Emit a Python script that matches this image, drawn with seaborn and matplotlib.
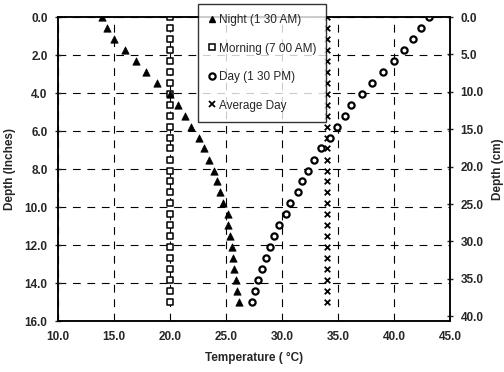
import pandas as pd
import seaborn as sns
import matplotlib.pyplot as plt
from matplotlib.lines import Line2D

# depth of each reading (inches)
depth_in = [0.0, 0.58, 1.15, 1.73, 2.31, 2.88, 3.46, 4.04, 4.62, 5.19, 5.77, 6.35, 6.92, 7.50,
            8.08, 8.65, 9.23, 9.81, 10.38, 10.96, 11.54, 12.12, 12.69, 13.27, 13.85, 14.42, 15.0]

night = [13.9, 14.4, 15.0, 16.0, 17.0, 17.9, 18.8, 20.0, 20.7, 21.3, 21.9, 22.6, 23.0, 23.5,
         23.9, 24.2, 24.5, 24.7, 25.2, 25.2, 25.4, 25.5, 25.6, 25.7, 25.9, 26.0, 26.2]
morning = [20.0] * 27
day = [43.1, 42.4, 41.7, 40.9, 40.0, 39.0, 38.0, 37.1, 36.2, 35.6, 34.9, 34.3, 33.5, 32.9,
       32.3, 31.8, 31.4, 30.7, 30.4, 29.7, 29.3, 28.9, 28.6, 28.2, 27.9, 27.6, 27.3]
avg_day = [34.0] * 27

labels = ["Night (1 30 AM)", "Morning (7 00 AM)", "Day (1 30 PM)", "Average Day"]

x_ticks = [10, 15, 20, 25, 30, 35, 40, 45]
y_ticks = [0, 2, 4, 6, 8, 10, 12, 14, 16]
cm_ticks = [0, 5, 10, 15, 20, 25, 30, 35, 40]

sns.set_style("white")
plt.rcParams['font.family'] = ['Liberation Sans', 'DejaVu Sans']

df = pd.DataFrame({"depth": depth_in, "night": night, "morning": morning,
                   "day": day, "avg": avg_day})

fig = plt.figure(figsize=(5.04, 3.72), dpi=100)
ax = fig.add_axes([58 / 504, 51 / 372, 392 / 504, 304 / 372])

styles = {
    "night": dict(marker="^", s=28, color="black", edgecolor="black", linewidth=0.5),
    "morning": dict(marker="s", s=18, facecolor="white", edgecolor="black", linewidth=1.1),
    "day": dict(marker="o", s=20, facecolor="white", edgecolor="black", linewidth=1.6),
    "avg": dict(marker="x", s=16, color="black", linewidth=1.3),
}
for col in ["morning", "avg", "night", "day"]:
    sns.scatterplot(data=df, x=col, y="depth", ax=ax, legend=False, zorder=3, **styles[col])

ax.set_xlim(10, 45)
ax.set_ylim(16, 0)
ax.set_xticks(x_ticks)
ax.set_xticklabels([f"{v:.1f}" for v in x_ticks], fontsize=8.5, fontweight="bold")
ax.set_yticks(y_ticks)
ax.set_yticklabels([f"{v:.1f}" for v in y_ticks], fontsize=8.5, fontweight="bold")
ax.grid(True, color="black", linestyle=(0, (7, 6)), linewidth=0.8)
ax.tick_params(direction="inout", length=5, width=1, pad=5)
for sp in ax.spines.values():
    sp.set_color("black")
    sp.set_linewidth(1.1)
ax.set_xlabel("Temperature ( °C)", fontsize=8.5, fontweight="bold", labelpad=6)
ax.set_ylabel("Depth (Inches)", fontsize=8.5, fontweight="bold", labelpad=6)

ax2 = ax.twinx()
ax2.set_ylim(16 * 2.54, 0)
ax2.set_yticks(cm_ticks)
ax2.set_yticklabels([f"{v:.1f}" for v in cm_ticks], fontsize=8.5, fontweight="bold")
ax2.tick_params(direction="inout", length=5, width=1, pad=5)
ax2.set_ylabel("Depth (cm)", fontsize=8.5, fontweight="bold", labelpad=6)
for sp in ax2.spines.values():
    sp.set_color("black")
    sp.set_linewidth(1.1)

handles = [
    Line2D([], [], linestyle="none", marker="^", markersize=5, color="black"),
    Line2D([], [], linestyle="none", marker="s", markersize=4.5, markerfacecolor="white",
           markeredgecolor="black", markeredgewidth=1.1),
    Line2D([], [], linestyle="none", marker="o", markersize=4.5, markerfacecolor="white",
           markeredgecolor="black", markeredgewidth=1.6),
    Line2D([], [], linestyle="none", marker="x", markersize=4.5, color="black",
           markeredgewidth=1.3),
]
leg = fig.legend(handles, labels, loc="upper left", bbox_to_anchor=(198 / 504, 1 - 4 / 372),
                 fontsize=8.5, frameon=True, fancybox=False, edgecolor="black",
                 labelspacing=1.4, handlelength=0.6, handletextpad=0.3,
                 borderpad=0.85, borderaxespad=0)
leg.get_frame().set_linewidth(1.0)
leg.set_zorder(10)

fig.savefig("out.png", dpi=100, facecolor="white")
